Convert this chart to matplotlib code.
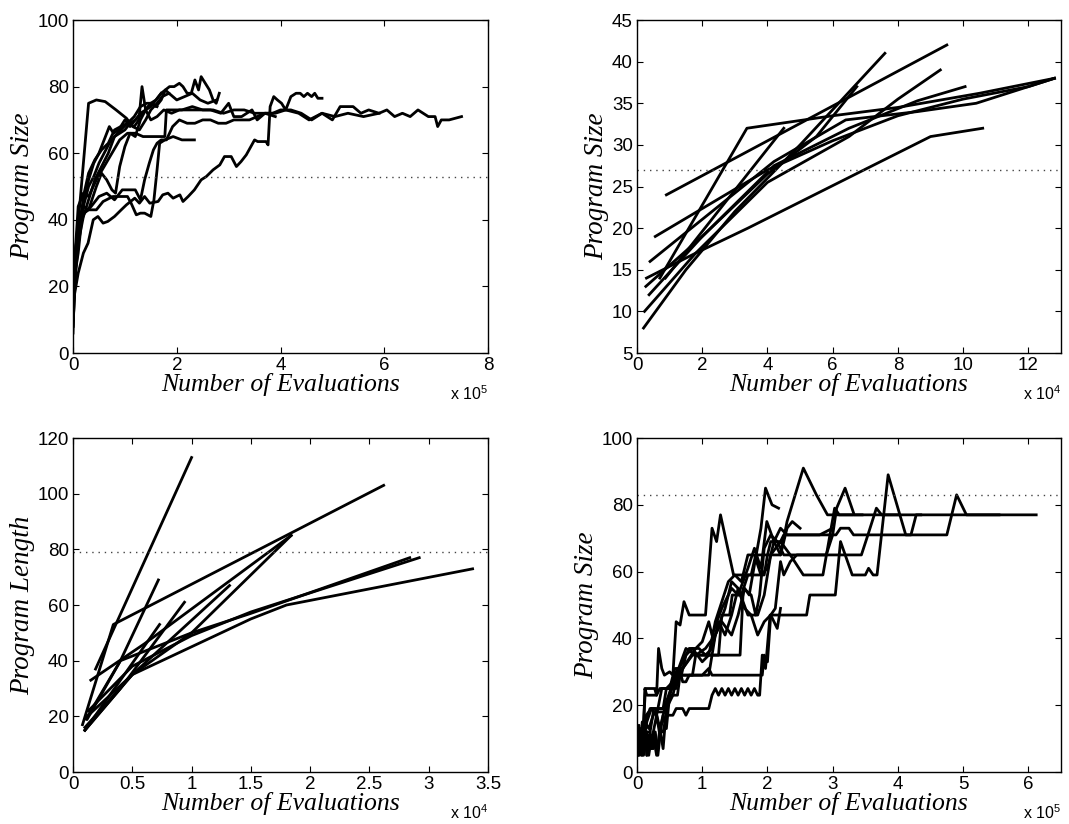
import matplotlib
matplotlib.use("Agg")
import matplotlib.pyplot as plt
import numpy as np

# --- top-left: program size vs evaluations (x in units of 1e5) ---
size_a_x = [
    [0.0, 0.05, 0.3, 0.45, 0.62, 0.83, 1.03, 1.15, 1.28, 1.4, 1.5, 1.62, 1.72, 1.85, 2.0, 2.15, 2.3, 2.45, 2.6, 2.77],
    [0.0, 0.04, 0.1, 0.2, 0.3, 0.4, 0.5, 0.6, 0.7, 0.8, 0.9, 1.0, 1.1, 1.2, 1.3, 1.4, 1.5, 1.6, 1.7, 1.78, 1.86, 1.95,
     2.05, 2.12, 2.2, 2.28, 2.35, 2.42, 2.47, 2.55, 2.63, 2.7, 2.76, 2.82],
    [0.0, 0.04, 0.1, 0.2, 0.3, 0.42, 0.55, 0.68, 0.8, 0.92, 1.05, 1.18, 1.27, 1.33, 1.4, 1.5, 1.62, 1.75, 1.9, 2.05,
     2.25, 2.45, 2.65, 2.85, 3.0, 3.1, 3.25, 3.45, 3.55, 3.7, 3.9, 4.1, 4.35, 4.55, 4.8, 5.05, 5.3, 5.6, 5.9],
    [0.0, 0.05, 0.12, 0.22, 0.35, 0.5, 0.65, 0.8, 0.95, 1.05, 1.2, 1.3, 1.38, 1.47, 1.55, 1.62, 1.7, 1.8, 1.92, 2.05,
     2.2, 2.35, 2.5, 2.65, 2.8, 2.95, 3.1, 3.25, 3.4, 3.55, 3.7, 3.85, 4.0, 4.2, 4.4, 4.6, 4.8, 5.0, 5.15, 5.4, 5.55,
     5.7, 5.9, 6.05, 6.2, 6.35, 6.5, 6.65, 6.85, 6.98, 7.03, 7.1, 7.25, 7.49],
    [0.0, 0.1, 0.2, 0.29, 0.39, 0.48, 0.58, 0.67, 0.8, 0.93, 1.03, 1.19, 1.28, 1.38, 1.48, 1.64, 1.73, 1.83, 1.93, 2.06,
     2.12, 2.22, 2.34, 2.47, 2.57, 2.7, 2.83, 2.92, 3.05, 3.15, 3.24, 3.34, 3.5, 3.56, 3.72, 3.76, 3.8, 3.87, 3.94,
     4.02, 4.1, 4.2, 4.3, 4.38, 4.45, 4.52, 4.6, 4.66, 4.72, 4.8],
    [0.0, 0.04, 0.1, 0.2, 0.3, 0.45, 0.58, 0.77, 0.95, 1.05, 1.12, 1.22, 1.3, 1.38, 1.5, 1.56, 1.62, 1.67, 1.77, 1.93,
     2.1, 2.22, 2.34],
    [0.0, 0.05, 0.12, 0.2, 0.3, 0.42, 0.55, 0.68, 0.8, 0.92, 1.05, 1.18, 1.3, 1.42, 1.52, 1.6, 1.7, 1.78, 1.85],
    [0.0, 0.05, 0.1, 0.2, 0.3, 0.45, 0.6, 0.75, 0.9, 1.05, 1.2, 1.35, 1.5, 1.65, 1.77, 1.8, 1.95, 2.1, 2.3, 2.5, 2.7,
     2.9, 3.1, 3.3, 3.5, 3.7, 3.9],
    [0.0, 0.04, 0.1, 0.2, 0.3, 0.4, 0.5, 0.6, 0.7, 0.78, 0.88, 1.0, 1.1, 1.2, 1.35, 1.5, 1.62],
    [0.0, 0.05, 0.1, 0.2, 0.3, 0.45, 0.55, 0.65, 0.75, 0.82, 0.9, 1.0, 1.1, 1.2, 1.3, 1.4, 1.5, 1.6, 1.7],
]
size_a_y = [
    [6, 30, 75, 76, 75.5, 73, 70.5, 68, 67, 70, 73, 75, 77, 78, 76, 77, 78, 76, 75, 76],
    [10, 28, 40, 44, 50, 53, 57, 60, 63, 65, 66, 67, 69, 70, 72, 73, 74, 76, 78, 79, 80, 80, 81, 80, 78, 78, 82, 79,
     83, 81, 79, 76, 75, 78],
    [8, 22, 33, 41, 46, 52, 56, 60, 65, 67, 69, 68, 70, 80, 73, 70, 71, 73, 72, 73, 73, 73, 73, 72, 75, 71, 71, 73,
     70, 72, 72, 73, 72, 70, 72, 71, 72, 71, 72],
    [12, 28, 38, 42, 44, 47, 48, 46, 49, 49, 49, 46, 52, 57, 61, 63, 64, 64, 68, 70, 69, 69, 70, 70, 69, 69, 70, 70,
     70, 71, 72, 72, 73, 73, 72, 70, 72, 70, 74, 74, 72, 73, 72, 73, 71, 72, 71, 73, 71, 71, 68, 70, 70, 71],
    [15, 24, 30, 33, 40, 41, 39, 39.5, 41, 43, 44.5, 46.5, 45, 47, 45, 45.5, 47.5, 48, 46.5, 47.5, 45.5, 47, 49, 52,
     53, 55, 56.5, 59, 59, 56, 57.5, 59.5, 64, 63.5, 63.5, 62.5, 74, 77, 76, 75, 73, 77, 78, 78, 77, 78, 77, 78,
     76.5, 76.5],
    [18, 30, 38, 42, 43, 43, 45.5, 47, 47, 47, 45, 41.5, 42, 42, 41, 46, 55, 63, 64, 65, 64, 64, 64],
    [14, 26, 36, 47, 54, 58, 61, 63, 67, 68, 69, 71, 74, 75, 75, 74, 76, 79, 78],
    [10, 32, 44, 48, 47, 52, 56, 60, 64, 66, 66, 65, 65, 65, 65, 73, 73, 73, 74, 73, 73, 72, 73, 73, 72, 72, 71],
    [15, 24, 30, 45, 52, 57, 60, 64, 68, 66, 67, 70, 68, 70, 72, 75, 74],
    [8, 26, 38, 44, 43, 50, 54, 52, 49, 48, 56, 62, 66, 65, 70, 73, 75, 76, 78],
]
size_a_ref = 53

# --- top-right: program size vs evaluations (x in units of 1e4) ---
size_b_x = [
    [0.9, 9.5],
    [0.2, 1.5, 3.0, 5.0, 7.6],
    [0.23, 1.8, 4.0, 6.5, 8.0, 9.3],
    [0.37, 2.0, 4.0, 5.5, 6.74],
    [0.27, 2.0, 4.2, 6.5, 8.6, 10.06],
    [0.29, 1.8, 3.4, 9.0, 10.6],
    [0.7, 3.37, 6.0, 8.0, 10.5, 12.8],
    [0.87, 4.5],
    [0.4, 4.2, 6.4, 8.6, 10.4, 12.8],
    [0.56, 4.0, 6.0, 8.0, 10.0, 12.0, 12.8],
]
size_b_y = [
    [24, 42],
    [8, 15, 22, 30, 41],
    [10, 17, 25.5, 31, 35.5, 39],
    [12, 19, 26.5, 31, 37],
    [13, 19, 27.5, 32, 35.3, 37],
    [14, 17, 20, 31, 32],
    [14, 32, 33.5, 34.5, 36.2, 38],
    [14, 32],
    [16, 28, 33, 34, 35, 38],
    [19, 27, 30.5, 33.5, 35.5, 37, 38],
]
size_b_ref = 27

# --- bottom-left: program length vs evaluations (x in units of 1e4) ---
length_x = [
    [0.08, 0.34, 2.62],
    [0.19, 1.0],
    [0.15, 0.6, 1.84],
    [0.12, 0.4, 0.72],
    [0.1, 0.4, 0.73],
    [0.1, 0.4, 0.94],
    [0.12, 0.5, 1.32],
    [0.1, 0.5, 1.0, 1.84],
    [0.11, 0.4, 1.0, 1.5, 2.84],
    [0.13, 0.5, 1.0, 1.5, 2.92],
    [0.1, 0.5, 1.0, 1.5, 1.8, 3.37],
]
length_y = [
    [17, 53, 103],
    [37, 113],
    [33, 46, 85],
    [19, 40, 69],
    [15, 33, 53],
    [15, 30, 61],
    [20, 35, 67],
    [16, 35, 50, 85],
    [19, 40, 50, 57, 77],
    [22, 38, 49, 57.5, 77],
    [15, 35, 45, 55, 60, 73],
]
length_ref = 79

# --- bottom-right: program size vs evaluations (x in units of 1e5) ---
size_c_x = [
    [0.0, 0.02, 0.05, 0.08, 0.1, 0.13, 0.2, 0.27, 0.3, 0.33, 0.38, 0.42, 0.5, 0.55, 0.6, 0.66, 0.72, 0.8, 1.05, 1.15,
     1.22, 1.28, 1.48, 1.75, 1.82, 2.0, 2.05, 2.2, 2.25, 3.05, 3.12, 3.25, 3.32, 4.75, 4.9, 5.05, 5.55],
    [0.0, 0.03, 0.06, 0.1, 0.15, 0.2, 0.25, 0.45, 0.5, 0.62, 0.66, 0.85, 0.9, 1.25, 1.3, 1.42, 1.46, 1.6, 1.7, 1.95,
     2.0, 2.2, 2.3, 2.55, 2.75, 2.92, 6.12],
    [0.0, 0.03, 0.06, 0.1, 0.12, 0.15, 0.3, 0.35, 0.45, 0.6, 0.65, 0.7, 0.75, 0.8, 1.1, 1.15, 1.2, 1.3, 1.45, 1.55,
     1.65, 1.72, 1.8, 1.9, 1.97, 2.07, 2.17],
    [0.0, 0.02, 0.04, 0.06, 0.08, 0.1, 0.12, 0.15, 0.18, 0.21, 0.25, 0.28, 0.32, 0.36, 0.4, 0.45, 0.55, 0.6, 0.7,
     0.75, 0.8, 0.9, 1.1, 1.15, 1.2, 1.25, 1.3, 1.35, 1.4, 1.45, 1.5, 1.55, 1.6, 1.65, 1.7, 1.75, 1.8, 1.85, 1.88,
     1.92, 1.97, 2.04, 2.6, 2.65, 3.04, 3.12, 3.3, 3.5, 3.55, 3.62, 3.68, 3.85, 4.12, 4.2, 4.28, 4.35],
    [0.0, 0.03, 0.07, 0.1, 0.14, 0.22, 0.3, 0.4, 0.45, 0.55, 0.62, 0.7, 0.85, 0.97, 1.58, 1.63, 1.75, 1.82, 1.88,
     1.95, 2.05, 2.15, 2.25, 2.9, 3.0, 3.06, 3.19, 3.33, 3.45],
    [0.0, 0.02, 0.04, 0.07, 0.1, 0.12, 0.15, 0.18, 0.22, 0.25, 0.3, 0.35, 0.4, 0.45, 0.55, 0.62, 0.72, 1.0, 1.1,
     1.15, 1.3, 1.45, 1.6, 1.92, 1.95, 2.0, 2.05, 2.12, 2.2, 2.25, 2.35, 2.45, 3.44, 3.54, 3.67, 3.75, 4.0],
    [0.0, 0.04, 0.08, 0.12, 0.18, 0.25, 0.32, 0.4, 0.5, 0.6, 0.75, 0.9, 1.05, 1.2, 1.35, 1.45, 1.55, 1.7, 1.85, 1.95,
     2.05, 2.2, 2.35, 2.55, 2.85, 3.03, 3.1, 3.3],
    [0.0, 0.03, 0.06, 0.1, 0.15, 0.22, 0.3, 0.38, 0.5, 0.58, 0.7, 0.9, 1.0, 1.1, 1.15, 1.3, 1.45, 1.55, 1.7, 1.8, 1.9,
     1.99, 2.1, 2.2, 2.3, 2.38, 2.5],
    [0.0, 0.04, 0.08, 0.12, 0.2, 0.28, 0.35, 0.45, 0.52, 0.6, 0.7, 0.8, 0.95, 1.05, 1.15, 1.25, 1.35, 1.45, 1.55,
     1.65, 1.75, 1.85, 1.95, 2.05, 2.15, 2.2],
    [0.0, 0.03, 0.05, 0.08, 0.1, 0.13, 0.15, 0.2, 0.23, 0.25, 0.3, 0.35, 0.4, 0.45, 0.5, 0.6, 0.68, 0.75, 0.85, 1.0,
     1.1, 1.2, 1.3, 1.4, 1.5, 1.6, 1.7, 1.8, 1.9, 2.0, 2.1, 2.2, 2.3, 2.4, 2.6, 2.8, 3.0],
]
size_c_y = [
    [9, 5, 12, 7, 15, 25, 25, 25, 23, 37, 31, 29, 30, 29, 45, 44, 51, 47, 47, 73, 69, 77, 59, 59, 65, 65, 69, 69, 71,
     71, 73, 73, 71, 71, 83, 77, 77],
    [12, 6, 10, 5, 12, 12, 18, 18, 23, 23, 29, 29, 35, 35, 47, 47, 53, 53, 59, 59, 65, 65, 75, 91, 83, 77, 77],
    [7, 14, 6, 12, 25, 23, 23, 25, 25, 25, 31, 27, 27, 29, 29, 35, 41, 45, 41, 47, 55, 53, 62, 73, 85, 80, 79],
    [5, 13, 5, 11, 5, 13, 7, 12, 5, 9, 7, 12, 5, 12, 12, 17, 17, 19, 19, 17, 19, 19, 19, 23, 25, 23, 25, 23, 25, 23,
     25, 23, 25, 23, 25, 23, 25, 23, 23, 35, 31, 47, 47, 53, 53, 69, 59, 59, 61, 59, 59, 89, 71, 71, 77, 77],
    [11, 6, 13, 9, 17, 19, 19, 19, 25, 27, 31, 31, 35, 35, 35, 55, 53, 47, 53, 67, 71, 69, 65, 65, 71, 79, 85, 77, 77],
    [13, 7, 11, 5, 9, 15, 5, 11, 7, 11, 5, 13, 7, 19, 23, 29, 29, 29, 31, 29, 29, 29, 29, 29, 35, 33, 47, 49, 63, 59,
     63, 65, 65, 71, 79, 77, 77],
    [7, 13, 9, 15, 13, 17, 19, 19, 23, 29, 37, 35, 37, 41, 49, 57, 55, 47, 47, 53, 65, 69, 65, 59, 59, 79, 77, 77],
    [5, 9, 13, 9, 15, 19, 17, 25, 25, 31, 31, 37, 39, 45, 41, 49, 55, 53, 61, 67, 61, 75, 69, 65, 73, 75, 73],
    [6, 10, 7, 14, 19, 19, 13, 21, 25, 29, 33, 37, 37, 35, 37, 45, 41, 47, 55, 49, 47, 41, 45, 47, 43, 49],
    [5, 11, 7, 15, 7, 12, 5, 12, 7, 12, 17, 11, 17, 13, 23, 29, 29, 35, 37, 33, 35, 45, 51, 57, 59, 57, 65, 65, 59,
     61, 69, 73, 71, 71, 71, 71, 73],
]
size_c_ref = 83

plt.rcParams["font.family"] = "Liberation Sans"
plt.rcParams["mathtext.fontset"] = "custom"
plt.rcParams["mathtext.rm"] = "Liberation Sans"


def draw_panel(ax, xs, ys, ref, xlim, ylim, xticks, yticks, ylabel, scale_exp):
    for x, y in zip(xs, ys):
        ax.plot(x, y, color="black", linewidth=2.0)
    ax.axhline(ref, color="#444444", linewidth=1.0, linestyle=(0, (1, 3.5)))
    ax.set_xlim(*xlim)
    ax.set_ylim(*ylim)
    ax.set_xticks(xticks)
    ax.set_yticks(yticks)
    ax.set_xticklabels([("%g" % t) for t in xticks])
    ax.set_yticklabels([("%g" % t) for t in yticks])
    ax.tick_params(direction="in", length=4, width=0.8, top=True, right=True, labelsize=13.5, pad=3)
    for s in ax.spines.values():
        s.set_linewidth(1.0)
    ax.set_xlabel("Number of Evaluations", family="Liberation Serif", style="italic",
                  fontsize=18.5, labelpad=-1)
    ax.set_ylabel(ylabel, family="Liberation Serif", style="italic", fontsize=19.5, labelpad=2)
    ax.text(1.0, -0.095, r"x 10$^{%d}$" % scale_exp, transform=ax.transAxes,
            ha="right", va="top", fontsize=11.5)


def main():
    fig = plt.figure(figsize=(10.69, 8.24), dpi=100)

    ax1 = fig.add_axes([0.0683, 0.5716, 0.3882, 0.4041])
    ax2 = fig.add_axes([0.5959, 0.5716, 0.3966, 0.4041])
    ax3 = fig.add_axes([0.0683, 0.0631, 0.3882, 0.4053])
    ax4 = fig.add_axes([0.5959, 0.0631, 0.3966, 0.4053])

    draw_panel(ax1, size_a_x, size_a_y, size_a_ref, (0, 8), (0, 100),
               np.arange(0, 9, 2), np.arange(0, 101, 20), "Program Size", 5)
    draw_panel(ax2, size_b_x, size_b_y, size_b_ref, (0, 13), (5, 45),
               np.arange(0, 13, 2), np.arange(5, 46, 5), "Program Size", 4)
    draw_panel(ax3, length_x, length_y, length_ref, (0, 3.5), (0, 120),
               np.arange(0, 3.6, 0.5), np.arange(0, 121, 20), "Program Length", 4)
    draw_panel(ax4, size_c_x, size_c_y, size_c_ref, (0, 6.5), (0, 100),
               np.arange(0, 7, 1), np.arange(0, 101, 20), "Program Size", 5)

    fig.savefig("out.png", dpi=100)
    plt.close(fig)


if __name__ == "__main__":
    main()
